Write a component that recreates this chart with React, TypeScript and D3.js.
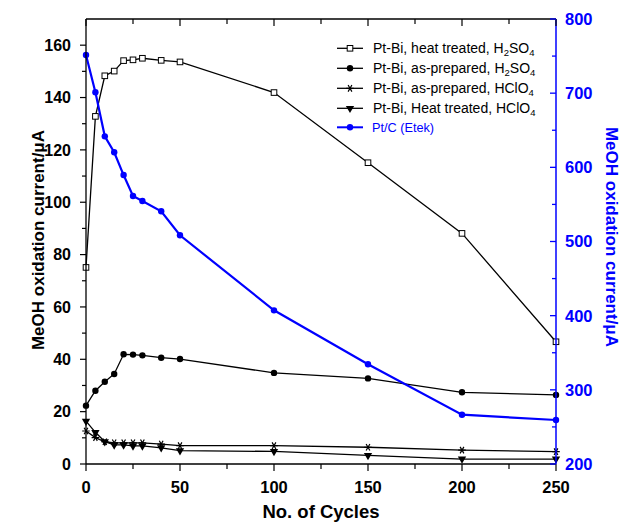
import React from "react";
import * as d3 from "d3";

const cycles = [0, 5, 10, 15, 20, 25, 30, 40, 50, 100, 150, 200, 250];
const htH2SO4 = [75.1, 132.8, 148.3, 150.1, 154.1, 154.4, 155.0, 154.2, 153.6, 141.9, 115.1, 88.1, 46.7];
const apH2SO4 = [22.3, 28.0, 31.4, 34.4, 41.9, 41.8, 41.5, 40.6, 40.1, 34.8, 32.7, 27.4, 26.4];
const apHClO4 = [12.6, 10.1, 8.5, 8.1, 8.1, 8.1, 8.1, 7.6, 7.0, 7.0, 6.4, 5.3, 4.7];
const htHClO4 = [16.4, 12.1, 8.5, 7.3, 7.3, 6.9, 6.9, 6.2, 5.1, 4.8, 3.3, 1.9, 1.9];
const ptC = [751.5, 701.2, 641.8, 620.3, 589.6, 561.3, 554.6, 540.7, 508.4, 407.2, 334.4, 266.5, 259.3];

const xTicks = [0, 50, 100, 150, 200, 250];
const xMinor = [25, 75, 125, 175, 225];
const yLeftTicks = [0, 20, 40, 60, 80, 100, 120, 140, 160];
const yLeftMinor = [10, 30, 50, 70, 90, 110, 130, 150];
const yRightTicks = [200, 300, 400, 500, 600, 700, 800];
const yRightMinor = [250, 350, 450, 550, 650, 750];

const L = 86, R = 556, T = 19, B = 464;
const FONT = "'Liberation Sans', Arial, Helvetica, sans-serif";
const BLUE = "#0000ff";

const x = d3.scaleLinear().domain([0, 250]).range([L, R]);
const yL = d3.scaleLinear().domain([0, 170]).range([B, T]);
const yR = d3.scaleLinear().domain([200, 800]).range([B, T]);

type Marker = "square" | "circle" | "asterisk" | "triangle";

function MarkerShape({ type, cx, cy, color }: { type: Marker; cx: number; cy: number; color: string }) {
  if (type === "square") {
    return <rect x={cx - 2.8} y={cy - 2.8} width={5.6} height={5.6} fill="#fff" stroke={color} strokeWidth={1} />;
  }
  if (type === "circle") {
    return <circle cx={cx} cy={cy} r={3.2} fill={color} />;
  }
  if (type === "triangle") {
    const p = d3.symbol().type(d3.symbolTriangle).size(30)();
    return <path d={p || ""} transform={`translate(${cx},${cy}) rotate(180)`} fill={color} />;
  }
  const p = d3.symbol().type(d3.symbolAsterisk).size(40)();
  return <path d={p || ""} transform={`translate(${cx},${cy}) rotate(90)`} fill="none" stroke={color} strokeWidth={1.2} />;
}

const series: { vals: number[]; marker: Marker; color: string; scale: any; width: number }[] = [
  { vals: htH2SO4, marker: "square", color: "#000", scale: yL, width: 1.3 },
  { vals: apH2SO4, marker: "circle", color: "#000", scale: yL, width: 1.3 },
  { vals: apHClO4, marker: "asterisk", color: "#000", scale: yL, width: 1.3 },
  { vals: htHClO4, marker: "triangle", color: "#000", scale: yL, width: 1.3 },
  { vals: ptC, marker: "circle", color: BLUE, scale: yR, width: 2.2 },
];

const legendLabels = [
  ["Pt-Bi, heat treated, H", "2", "SO", "4"],
  ["Pt-Bi, as-prepared, H", "2", "SO", "4"],
  ["Pt-Bi, as-prepared, HClO", "4", "", ""],
  ["Pt-Bi, Heat treated, HClO", "4", "", ""],
];

export default function App() {
  const lineGen = (sc: any) =>
    d3.line<number>().x((_, i) => x(cycles[i])).y((v) => sc(v));

  return (
    <svg width={625} height={526} style={{ position: "absolute", left: 0, top: 0, background: "#fff" }} fontFamily={FONT}>
      <rect x={0} y={0} width={625} height={526} fill="#fff" />
      {series.map((s, si) => (
        <g key={si}>
          <path d={lineGen(s.scale)(s.vals) || ""} fill="none" stroke={s.color} strokeWidth={s.width} />
          {s.vals.map((v, i) => (
            <MarkerShape key={i} type={s.marker} cx={x(cycles[i])} cy={s.scale(v)} color={s.color} />
          ))}
        </g>
      ))}

      <line x1={L} x2={R} y1={T} y2={T} stroke="#000" strokeWidth={1.3} />
      <line x1={L} x2={L} y1={T} y2={B} stroke="#000" strokeWidth={1.3} />
      <line x1={L} x2={R} y1={B} y2={B} stroke="#000" strokeWidth={1.3} />
      <line x1={R} x2={R} y1={T} y2={B} stroke={BLUE} strokeWidth={1.5} />

      {xTicks.map((t) => (
        <g key={"xb" + t}>
          <line x1={x(t)} x2={x(t)} y1={B} y2={B + 7} stroke="#000" strokeWidth={1.2} />
          <line x1={x(t)} x2={x(t)} y1={T} y2={T + 7} stroke="#000" strokeWidth={1.2} />
          <text x={x(t)} y={493} textAnchor="middle" fontSize={16.5} fontWeight="bold">{t}</text>
        </g>
      ))}
      {xMinor.map((t) => (
        <g key={"xm" + t}>
          <line x1={x(t)} x2={x(t)} y1={B} y2={B + 5} stroke="#000" strokeWidth={1.2} />
          <line x1={x(t)} x2={x(t)} y1={T} y2={T + 5} stroke="#000" strokeWidth={1.2} />
        </g>
      ))}
      <text x={(L + R) / 2} y={518} textAnchor="middle" fontSize={18.5} fontWeight="bold">No. of Cycles</text>

      {yLeftTicks.map((t) => (
        <g key={"yl" + t}>
          <line x1={L - 6} x2={L} y1={yL(t)} y2={yL(t)} stroke="#000" strokeWidth={1.2} />
          <text x={71} y={yL(t) + 5.8} textAnchor="end" fontSize={16} fontWeight="bold">{t}</text>
        </g>
      ))}
      {yLeftMinor.map((t) => (
        <line key={"ylm" + t} x1={L - 4} x2={L} y1={yL(t)} y2={yL(t)} stroke="#000" strokeWidth={1.2} />
      ))}
      <text transform={`translate(44,240) rotate(-90)`} textAnchor="middle" fontSize={17} fontWeight="bold">
        MeOH oxidation current/μA
      </text>

      {yRightTicks.map((t) => (
        <g key={"yr" + t}>
          <line x1={R - 6} x2={R} y1={yR(t)} y2={yR(t)} stroke={BLUE} strokeWidth={1.3} />
          <text x={565} y={yR(t) + 5.9} textAnchor="start" fontSize={16.5} fontWeight="bold" fill={BLUE}>{t}</text>
        </g>
      ))}
      {yRightMinor.map((t) => (
        <line key={"yrm" + t} x1={R - 4} x2={R} y1={yR(t)} y2={yR(t)} stroke={BLUE} strokeWidth={1.3} />
      ))}
      <text transform={`translate(606,237) rotate(90)`} textAnchor="middle" fontSize={17} fontWeight="bold" fill={BLUE}>
        MeOH oxidation current/μA
      </text>

      {series.map((s, i) => {
        const cy = i < 4 ? 48.3 + i * 20 : 127.3;
        return (
          <g key={"lg" + i}>
            <line x1={337} x2={363} y1={cy} y2={cy} stroke={s.color} strokeWidth={i < 4 ? 1.3 : 2} />
            <MarkerShape type={s.marker} cx={350} cy={cy} color={s.color} />
            {i < 4 ? (
              <text x={373} y={cy + 5} fontSize={14}>
                {legendLabels[i][0]}
                <tspan fontSize={9.5} dy={3}>{legendLabels[i][1]}</tspan>
                {legendLabels[i][2] ? <tspan fontSize={14} dy={-3}>{legendLabels[i][2]}</tspan> : null}
                {legendLabels[i][3] ? <tspan fontSize={9.5} dy={3}>{legendLabels[i][3]}</tspan> : null}
              </text>
            ) : (
              <text x={372} y={cy + 4.5} fontSize={12.7} fill={BLUE}>Pt/C (Etek)</text>
            )}
          </g>
        );
      })}
    </svg>
  );
}
